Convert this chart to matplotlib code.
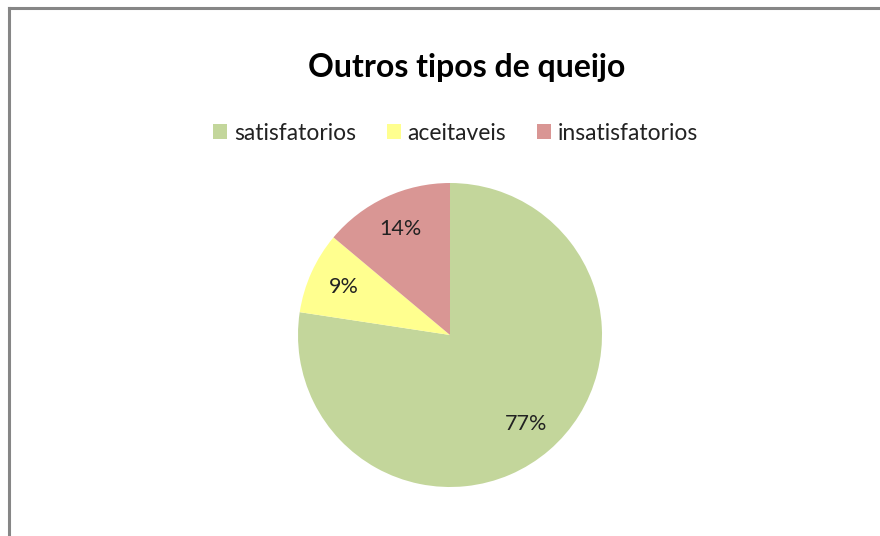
import matplotlib
matplotlib.use("Agg")
import matplotlib.pyplot as plt
from matplotlib.patches import Patch

categories = ["satisfatorios", "aceitaveis", "insatisfatorios"]
values = [77.4, 8.7, 13.9]
colors = ["#C3D69B", "#FFFF8F", "#D99694"]
title = "Outros tipos de queijo"

plt.rcParams['font.family'] = ['Lato', 'DejaVu Sans']

W, H = 880, 536
fig = plt.figure(figsize=(W / 100, H / 100), dpi=100)
fig.patch.set_facecolor("white")

# border (top and left visible)
fig.add_artist(plt.Line2D([9 / W, 9 / W], [0, 1 - 8 / H], transform=fig.transFigure,
                          color="#868686", lw=2.2))
fig.add_artist(plt.Line2D([9 / W, 1], [1 - 8 / H, 1 - 8 / H], transform=fig.transFigure,
                          color="#868686", lw=2.2))

cx, cy, r = 450, 335, 152
ax = fig.add_axes([(cx - r) / W, (H - cy - r) / H, 2 * r / W, 2 * r / H])
wedges, texts, autotexts = ax.pie(values, colors=colors, startangle=90, counterclock=False,
                                  autopct=lambda p: f"{p:.0f}%", pctdistance=0.77,
                                  wedgeprops=dict(linewidth=0),
                                  textprops=dict(fontsize=15.5, color="#222222"))
ax.set_aspect("equal")
ax.set_xlim(-1, 1)
ax.set_ylim(-1, 1)
ax.axis("off")

fig.text(467 / W, 1 - 67 / H, title, ha="center", va="center", fontsize=23,
         fontweight="bold", color="black")

handles = [Patch(facecolor=c, edgecolor="none") for c in colors]
leg = fig.legend(handles, categories, loc="center", bbox_to_anchor=(455.5 / W, 1 - 133 / H),
                 ncol=3, frameon=False, fontsize=16.5, handlelength=0.6, handleheight=0.6,
                 handletextpad=0.3, columnspacing=1.35, labelcolor="#222222",
                 borderpad=0, borderaxespad=0)

fig.savefig("out.png", dpi=100)
